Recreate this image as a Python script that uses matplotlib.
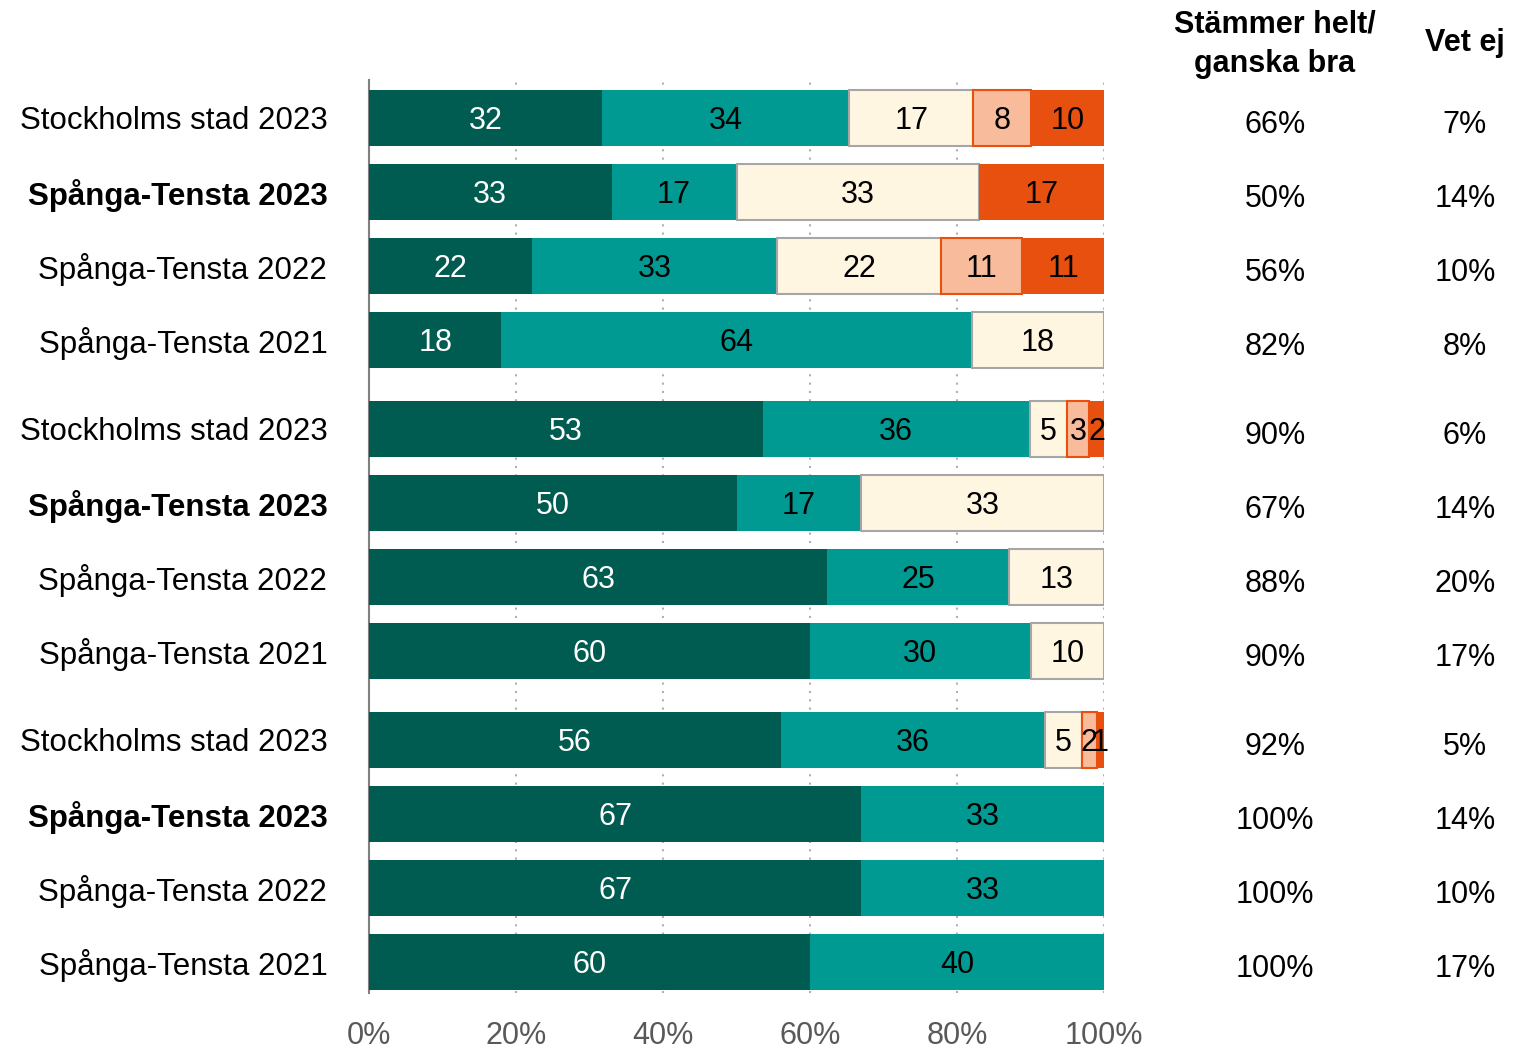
import numpy as np
import matplotlib
matplotlib.use("Agg")
import matplotlib.pyplot as plt

plt.rcParams["font.family"] = ["Liberation Sans", "DejaVu Sans"]

# data
labels = ["Stockholms stad 2023", "Spånga-Tensta 2023", "Spånga-Tensta 2022", "Spånga-Tensta 2021"] * 3
bold_rows = [1, 5, 9]
stammer_helt = [32, 33, 22, 18, 53, 50, 63, 60, 56, 67, 67, 60]
stammer_ganska = [34, 17, 33, 64, 36, 17, 25, 30, 36, 33, 33, 40]
varken = [17, 33, 22, 18, 5, 33, 13, 10, 5, 0, 0, 0]
ganska_daligt = [8, 0, 11, 0, 3, 0, 0, 0, 2, 0, 0, 0]
mycket_daligt = [10, 17, 11, 0, 2, 0, 0, 0, 1, 0, 0, 0]
helt_ganska_bra = ["66%", "50%", "56%", "82%", "90%", "67%", "88%", "90%", "92%", "100%", "100%", "100%"]
vet_ej = ["7%", "14%", "10%", "8%", "6%", "14%", "20%", "17%", "5%", "14%", "10%", "17%"]

series = [stammer_helt, stammer_ganska, varken, ganska_daligt, mycket_daligt]
colors = ["#005b50", "#009a92", "#fff6e2", "#f8bc9c", "#e8500f"]
edges = [None, None, "#a6a6a6", "#e8500f", None]
txt_colors = ["white", "black", "black", "black", "black"]

# y positions with gaps between groups
ypos = np.array([i + 0.2 * (i // 4) for i in range(12)])

fig = plt.figure(figsize=(15.37, 10.51), dpi=100)
ax = fig.add_axes([0.2401, 0.0552, 0.4782, 0.8687])

vals = np.array(series, dtype=float)
widths = vals / vals.sum(axis=0) * 100
left = np.zeros(12)
for k in range(5):
    for i in range(12):
        w = widths[k, i]
        if w <= 0:
            continue
        ax.barh(ypos[i], w, left=left[i], height=0.76, color=colors[k],
                edgecolor=edges[k] if edges[k] else colors[k],
                linewidth=1.5 if edges[k] else 0, zorder=3)
        ax.text(left[i] + w / 2, ypos[i] + 0.04, str(series[k][i]), ha="center", va="center",
                fontsize=22, color=txt_colors[k], zorder=4)
    left += widths[k]

ax.set_xlim(0, 100)
ax.set_ylim(11.82, -0.51)
ax.set_xticks([0, 20, 40, 60, 80, 100])
ax.set_xticklabels(["0%", "20%", "40%", "60%", "80%", "100%"], fontsize=22, color="#595959")
ax.tick_params(axis="x", length=0, pad=20)
ax.set_yticks(ypos)
ax.set_yticklabels(labels, fontsize=22.5)
for i in bold_rows:
    ax.get_yticklabels()[i].set_fontweight("bold")
ax.tick_params(axis="y", length=0, pad=30)
ax.grid(axis="x", linestyle=(0, (1, 3)), color="#b0b0b0", linewidth=1.5, zorder=0)
for s in ["top", "right", "bottom"]:
    ax.spines[s].set_visible(False)
ax.spines["left"].set_color("#808080")
ax.spines["left"].set_linewidth(1.5)

# right-hand columns
for i in range(12):
    yf = ypos[i] + 0.1
    ax.text(1.233, yf, helt_ganska_bra[i], transform=ax.get_yaxis_transform(),
            ha="center", va="center", fontsize=22)
    ax.text(1.491, yf, vet_ej[i], transform=ax.get_yaxis_transform(),
            ha="center", va="center", fontsize=22)

fig.text(1275 / 1537, 1 - 44 / 1051, "Stämmer helt/\nganska bra", ha="center", va="center",
         fontsize=22, fontweight="bold", linespacing=1.4)
fig.text(1465 / 1537, 1 - 43 / 1051, "Vet ej", ha="center", va="center",
         fontsize=22, fontweight="bold")

fig.savefig("out.png", dpi=100)
